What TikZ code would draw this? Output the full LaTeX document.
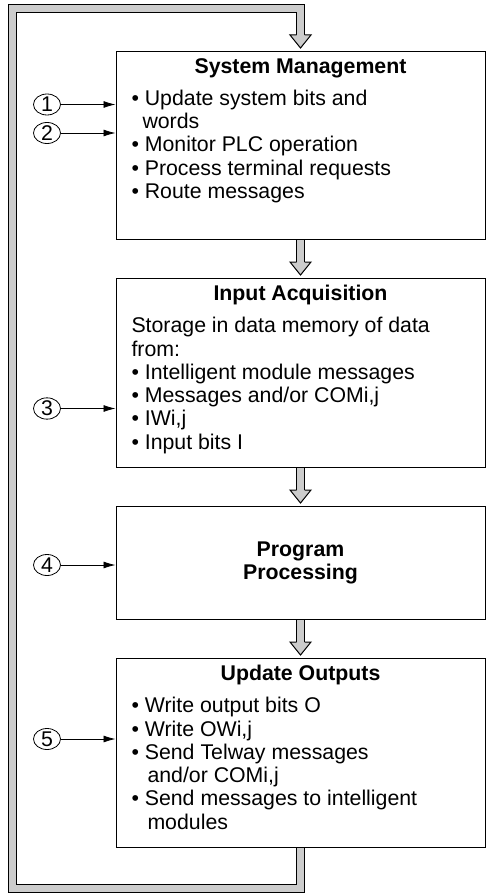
\documentclass[tikz,border=0pt]{standalone}
\usepackage{fontspec}
\setmainfont{Liberation Sans}
\usetikzlibrary{positioning, shapes.geometric, arrows.meta, backgrounds}

\definecolor{pipegray}{RGB}{204,204,204}
\newcommand{\bodyfont}{\fontsize{21.3pt}{23.3pt}\selectfont}
\newcommand{\bul}{\textbullet\ }
\newcommand{\stagebody}[3]{\parbox[t][#1][t]{338pt}{\raggedright
  {\centering\bfseries #2\par}\vspace{8.5pt}#3}}
% open-topped head of a gray flow arrow, just above a box
\newcommand{\flowhead}[1]{%
  \fill[pipegray] ([xshift=-10.5pt,yshift=16pt]#1.north) -- ([yshift=3pt]#1.north)
    -- ([xshift=10.5pt,yshift=16pt]#1.north) -- cycle;
  \draw[line width=1pt] ([xshift=-4pt,yshift=16pt]#1.north) -- ([xshift=-10.5pt,yshift=16pt]#1.north)
    -- ([yshift=3pt]#1.north) -- ([xshift=10.5pt,yshift=16pt]#1.north) -- ([xshift=4pt,yshift=16pt]#1.north);}

\begin{document}
\begin{tikzpicture}[node distance=38pt, >={Latex[length=12pt,width=7pt]}, font=\bodyfont,
  stage/.style={draw, rectangle, line width=1pt, fill=white, inner xsep=15pt, inner ysep=7pt, minimum width=369pt},
  num/.style={draw, ellipse, line width=0.8pt, minimum width=27pt, minimum height=21pt, inner sep=0pt},
  pipeout/.style={line width=9pt, draw=black},
  pipein/.style={line width=7pt, draw=pipegray}]
  \useasboundingbox (0,0) rectangle (486pt,-893pt);

  \node (sysman) [stage, anchor=north] at (300.5pt,-51pt) {\stagebody{174pt}{System Management}{%
    \bul Update system bits and\\
    \hspace*{11pt}words\\
    \bul Monitor PLC operation\\
    \bul Process terminal requests\\
    \bul Route messages}};
  \node (input) [stage, below=of sysman] {\stagebody{175pt}{Input Acquisition}{%
    Storage in data memory of data\\
    from:\\
    \bul Intelligent module messages\\
    \bul Messages and/or COMi,j\\
    \bul IWi,j\\
    \bul Input bits I}};
  \node (prog) [stage, below=of input, minimum height=113pt, align=center, font=\bodyfont\bfseries] {Program\\Processing};
  \node (output) [stage, below=of prog] {\stagebody{175pt}{Update Outputs}{%
    \bul Write output bits O\\
    \bul Write OWi,j\\
    \bul Send Telway messages\\
    \hspace*{16pt}and/or COMi,j\\
    \bul Send messages to intelligent\\
    \hspace*{16pt}modules}};

  \node (n1) [num] at (47pt,-104.5pt) {1};
  \node (n2) [num] at (47pt,-133pt) {2};
  \node (n3) [num] at (47pt,-408.5pt) {3};
  \node (n4) [num] at (47pt,-565pt) {4};
  \node (n5) [num] at (47pt,-739pt) {5};

  \draw [->, line width=0.8pt] (n1) -- (n1 -| sysman.west);
  \draw [->, line width=0.8pt] (n2) -- (n2 -| sysman.west);
  \draw [->, line width=0.8pt] (n3) -- (n3 -| input.west);
  \draw [->, line width=0.8pt] (n4) -- (n4 -| prog.west);
  \draw [->, line width=0.8pt] (n5) -- (n5 -| output.west);

  % cycle pipe
  \coordinate (loopbr) at (output.center |- 0,-888.5pt);
  \coordinate (loopbl) at (12.3pt,-888.5pt);
  \coordinate (looptl) at (12.3pt,-8.8pt);
  \coordinate (looptr) at (sysman.center |- 0,-8.8pt);

  \begin{scope}[on background layer]
    \draw [pipeout] (sysman.center) -- ([yshift=16pt]input.north);
    \draw [pipein] (sysman.center) -- ([yshift=16pt]input.north);
    \draw [pipeout] (input.center) -- ([yshift=16pt]prog.north);
    \draw [pipein] (input.center) -- ([yshift=16pt]prog.north);
    \draw [pipeout] (prog.center) -- ([yshift=16pt]output.north);
    \draw [pipein] (prog.center) -- ([yshift=16pt]output.north);
    \draw [pipeout] (output.center) -- (loopbr) -- (loopbl) -- (looptl) -- (looptr) -- ([yshift=16pt]sysman.north);
    \draw [pipein] (output.center) -- (loopbr) -- (loopbl) -- (looptl) -- (looptr) -- ([yshift=16pt]sysman.north);
    \flowhead{sysman}
    \flowhead{input}
    \flowhead{prog}
    \flowhead{output}
  \end{scope}
\end{tikzpicture}
\end{document}
